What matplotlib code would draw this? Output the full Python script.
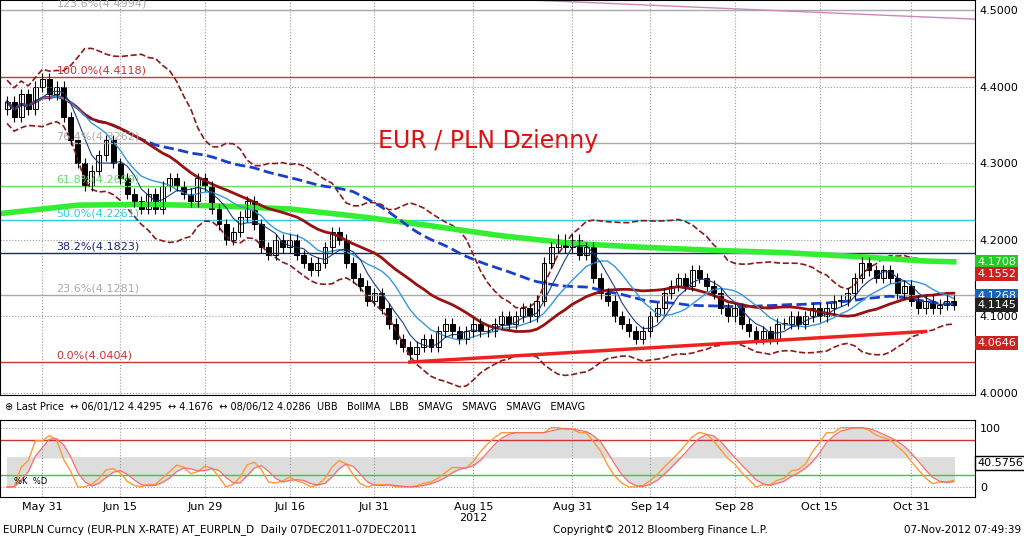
import matplotlib
matplotlib.use("Agg")
import matplotlib.pyplot as plt
import numpy as np
import pandas as pd

closes = [4.38,4.36,4.39,4.37,4.40,4.41,4.39,4.40,4.36,4.33,
          4.30,4.27,4.29,4.31,4.33,4.30,4.28,4.26,4.25,4.24,
          4.26,4.24,4.27,4.28,4.27,4.26,4.25,4.28,4.27,4.24,
          4.22,4.20,4.21,4.23,4.25,4.22,4.19,4.18,4.20,4.19,
          4.20,4.18,4.17,4.16,4.17,4.19,4.21,4.20,4.17,4.15,
          4.14,4.12,4.13,4.11,4.09,4.07,4.06,4.05,4.06,4.07,
          4.06,4.08,4.09,4.08,4.07,4.08,4.09,4.08,4.08,4.09,
          4.10,4.09,4.10,4.11,4.10,4.12,4.17,4.19,4.20,4.19,
          4.20,4.18,4.19,4.15,4.13,4.12,4.10,4.09,4.08,4.07,
          4.08,4.10,4.11,4.13,4.14,4.15,4.14,4.16,4.15,4.14,
          4.13,4.11,4.10,4.11,4.09,4.08,4.07,4.08,4.07,4.09,
          4.09,4.10,4.09,4.10,4.11,4.10,4.11,4.12,4.12,4.13,
          4.15,4.17,4.16,4.15,4.16,4.15,4.13,4.14,4.12,4.11,
          4.12,4.11,4.115,4.12,4.115]
opens = [4.37] + closes[:-1]
tick_idx = [5,16,28,40,52,66,80,91,103,115,128]
tick_lab = ["May 31","Jun 15","Jun 29","Jul 16","Jul 31","Aug 15\n2012","Aug 31","Sep 14","Sep 28","Oct 15","Oct 31"]
ema_x = [-1,10,20,30,40,50,60,70,80,90,100,110,120,130,134]
ema_y = [4.234,4.245,4.246,4.244,4.240,4.230,4.218,4.205,4.195,4.190,4.186,4.183,4.178,4.172,4.171]
fib_vals = [4.4994,4.4118,4.3262,4.2699,4.2261,4.1823,4.1281,4.0404]
fib_labs = ["123.6%(4.4994)","100.0%(4.4118)","76.4%(4.3262)","61.8%(4.2699)","50.0%(4.2261)","38.2%(4.1823)","23.6%(4.1281)","0.0%(4.0404)"]
fib_cols = ["#aaaaaa","#cc3333","#aaaaaa","#66dd66","#33ccdd","#1a237e","#aaaaaa","#cc3333"]
sup_x = [57,130]; sup_y = [4.040,4.080]
right_vals = [4.1708,4.1552,4.1268,4.1145,4.0646]
right_cols = ["#22cc22","#cc2222","#1565c0","#222222","#cc2222"]

s = pd.Series(closes)
ma20 = s.rolling(20, min_periods=1).mean()
sd = s.rolling(20, min_periods=2).std().bfill()
ubb = ma20 + 2*sd; lbb = ma20 - 2*sd
ma50 = s.rolling(50, min_periods=1).mean()
ma5 = s.rolling(5, min_periods=1).mean()
ma10 = s.rolling(10, min_periods=1).mean()
lo = s.rolling(14, min_periods=1).min(); hi = s.rolling(14, min_periods=1).max()
k = ((s-lo)/(hi-lo+1e-9)*100).rolling(3, min_periods=1).mean()
d = k.rolling(3, min_periods=1).mean()

W, H = 1024, 539
fig = plt.figure(figsize=(W/100, H/100), dpi=100)
ax = fig.add_axes([0, 1-395/H, 975/W, 395/H])
ax2 = fig.add_axes([0, 1-497/H, 975/W, 77/H])
x = np.arange(len(closes))
for a in (ax, ax2):
    a.set_xlim(-1, 137)
    a.set_xticks(tick_idx)
    a.grid(True, color="#999999", ls=":", lw=0.8)
    a.yaxis.tick_right()
    a.tick_params(labelsize=8, length=0)
ax.set_ylim(3.997, 4.513)
ax.set_yticks([4.0,4.1,4.2,4.3,4.4,4.5])
ax.set_yticklabels(["4.0000","4.1000","4.2000","4.3000","4.4000","4.5000"])
ax.set_xticklabels([])
for v, l, c in zip(fib_vals, fib_labs, fib_cols):
    ax.axhline(v, color=c, lw=1)
    ax.text(7, v+0.002, l, color=c, fontsize=8, va="bottom")
ax.plot([74,137],[4.513,4.488], color="#cc88bb", lw=1)
ax.plot(x, ubb, color="#8b1a1a", ls="--", lw=1.2)
ax.plot(x, lbb, color="#8b1a1a", ls="--", lw=1.2)
ax.plot(ema_x, ema_y, color="#33ee33", lw=4)
ax.plot(x, ma50, color="#1a3fcc", ls="--", lw=2)
ax.plot(x, ma20, color="#991111", lw=2)
ax.plot(x, ma10, color="#3399dd", lw=1)
ax.plot(x, ma5, color="#1a3f88", lw=0.8)
for i,(o,c) in enumerate(zip(opens, closes)):
    ax.vlines(i, min(o,c)-0.007, max(o,c)+0.007, color="black", lw=0.8)
    ax.bar(i, abs(c-o) if abs(c-o)>0.001 else 0.001, bottom=min(o,c), width=0.7,
           color="white" if c>=o else "black", edgecolor="black", lw=0.7)
ax.plot(sup_x, sup_y, color="#ee2222", lw=2.5)
ax.text(52.5, 4.32, "EUR / PLN Dzienny", color="#dd1111", fontsize=17)
for v, c in zip(right_vals, right_cols):
    ax.text(137.3, v, f"{v:.4f}", color="white", fontsize=8,
            va="center", ha="left", bbox=dict(fc=c, ec="none", pad=1.5), clip_on=False, zorder=10)
ax2.set_ylim(-17, 113)
ax2.set_yticks([0,100])
ax2.axhline(80, color="#cc3333", lw=1)
ax2.axhline(20, color="#33cc33", lw=1)
ax2.fill_between(x, d, 50, color="#dddddd")
ax2.plot(x, k, color="#ff9933", lw=1)
ax2.plot(x, d, color="#ff6666", lw=0.8)
ax2.text(137.3, 40.6, "40.5756", fontsize=8, va="center", bbox=dict(fc="white", ec="black", pad=1.5), clip_on=False)
ax2.set_xticklabels(tick_lab, fontsize=8)
ax2.text(1, 5, "%K  %D", fontsize=6)
fig.text(0.005, 1-407/H, "⊕ Last Price  ↔ 06/01/12 4.4295  ↔ 4.1676  ↔ 08/06/12 4.0286  UBB   BollMA   LBB   SMAVG   SMAVG   SMAVG   EMAVG",
         fontsize=7, va="center")
fig.text(0.003, 0.012, "EURPLN Curncy (EUR-PLN X-RATE) AT_EURPLN_D  Daily 07DEC2011-07DEC2011", fontsize=7.5)
fig.text(0.54, 0.012, "Copyright© 2012 Bloomberg Finance L.P.", fontsize=7.5)
fig.text(0.997, 0.012, "07-Nov-2012 07:49:39", fontsize=7.5, ha="right")
fig.savefig("out.png", dpi=100)
